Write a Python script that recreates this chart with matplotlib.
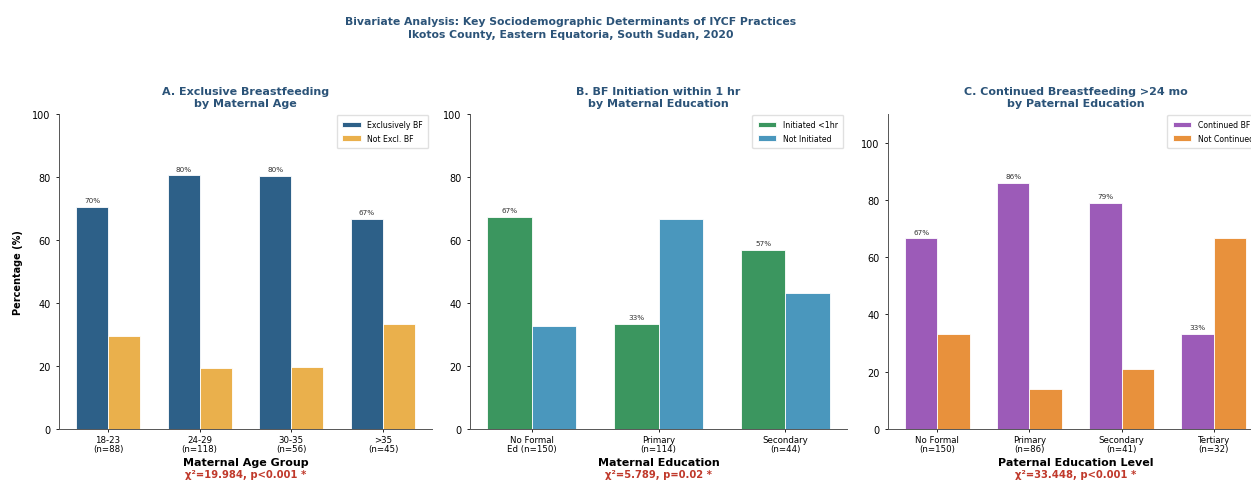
import matplotlib
matplotlib.use("Agg")
import matplotlib.pyplot as plt
import numpy as np

# Panel A: exclusive breastfeeding by maternal age
age_groups = ["18-23\n(n=88)", "24-29\n(n=118)", "30-35\n(n=56)", ">35\n(n=45)"]
ebf_yes = [70.5, 80.5, 80.4, 66.7]
ebf_no = [29.5, 19.5, 19.6, 33.3]

# Panel B: early initiation by maternal education
mat_edu = ["No Formal\nEd (n=150)", "Primary\n(n=114)", "Secondary\n(n=44)"]
init_yes = [67.3, 33.3, 56.8]
init_no = [32.7, 66.7, 43.2]

# Panel C: continued breastfeeding by paternal education
pat_edu = ["No Formal\n(n=150)", "Primary\n(n=86)", "Secondary\n(n=41)", "Tertiary\n(n=32)"]
cont_yes = [66.7, 86.0, 79.0, 33.3]
cont_no = [33.3, 14.0, 21.0, 66.7]

TITLE_COLOR = "#2b5378"
CHI_COLOR = "#c0392b"

panels = [
    dict(cats=age_groups, a=ebf_yes, b=ebf_no,
         labels=("Exclusively BF", "Not Excl. BF"),
         colors=("#2d6088", "#eab04c"),
         title="A. Exclusive Breastfeeding\nby Maternal Age",
         xlabel="Maternal Age Group",
         chi="χ²=19.984, p<0.001 *", ymax=100),
    dict(cats=mat_edu, a=init_yes, b=init_no,
         labels=("Initiated <1hr", "Not Initiated"),
         colors=("#3b965f", "#4a97bd"),
         title="B. BF Initiation within 1 hr\nby Maternal Education",
         xlabel="Maternal Education",
         chi="χ²=5.789, p=0.02 *", ymax=100),
    dict(cats=pat_edu, a=cont_yes, b=cont_no,
         labels=("Continued BF", "Not Continued"),
         colors=("#9c5bb8", "#e8913c"),
         title="C. Continued Breastfeeding >24 mo\nby Paternal Education",
         xlabel="Paternal Education Level",
         chi="χ²=33.448, p<0.001 *", ymax=110),
]

W, H = 1251, 481
fig = plt.figure(figsize=(W / 100, H / 100), dpi=100)
fig.patch.set_facecolor("white")

# axes boxes in pixels: left, width (the last panel runs past the right edge)
boxes = [(59, 373), (470, 377), (888, 375)]
top_px, bottom_px = 115, 430

width = 0.35
for p, (lx, wx) in zip(panels, boxes):
    ax = fig.add_axes([lx / W, (H - bottom_px) / H, wx / W, (bottom_px - top_px) / H])
    x = np.arange(len(p["cats"]))
    bars_a = ax.bar(x - width / 2, p["a"], width, color=p["colors"][0],
                    edgecolor="white", linewidth=0.6, label=p["labels"][0])
    ax.bar(x + width / 2, p["b"], width, color=p["colors"][1],
           edgecolor="white", linewidth=0.6, label=p["labels"][1])
    for rect, v in zip(bars_a, p["a"]):
        ax.text(rect.get_x() + rect.get_width() / 2, v + 1.2, f"{v:.0f}%",
                ha="center", va="bottom", fontsize=5.2, color="#333333")

    ax.set_ylim(0, p["ymax"])
    ax.set_yticks(np.arange(0, 101, 20))
    ax.set_xticks(x)
    ax.set_xticklabels(p["cats"], fontsize=6.2, linespacing=1.0)
    ax.tick_params(axis="y", labelsize=7, length=2.5, width=0.6)
    ax.tick_params(axis="x", length=2.5, width=0.6, pad=2)
    for s in ("top", "right"):
        ax.spines[s].set_visible(False)
    for s in ("left", "bottom"):
        ax.spines[s].set_linewidth(0.7)
        ax.spines[s].set_color("#555555")

    ax.set_title(p["title"], fontsize=8, fontweight="bold", color=TITLE_COLOR,
                 pad=6, linespacing=1.2)
    ax.set_xlabel(p["xlabel"], fontsize=8, fontweight="bold", labelpad=3)
    ax.text(0.5, -0.143, p["chi"], transform=ax.transAxes, ha="center", va="center",
            fontsize=7.2, fontweight="bold", color=CHI_COLOR)
    ax.legend(loc="upper right", bbox_to_anchor=(1.0, 1.01), fontsize=5.6,
              frameon=True, framealpha=0.9, edgecolor="#dddddd",
              handlelength=2.4, borderpad=0.7, labelspacing=0.6)

fig.axes[0].set_ylabel("Percentage (%)", fontsize=7, fontweight="bold", labelpad=7)

fig.suptitle("Bivariate Analysis: Key Sociodemographic Determinants of IYCF Practices\n"
             "Ikotos County, Eastern Equatoria, South Sudan, 2020",
             x=571 / W, y=1 - 17 / H, va="top", fontsize=7.8, fontweight="bold",
             color=TITLE_COLOR, linespacing=1.35)

fig.savefig("out.png", dpi=100, facecolor="white")
